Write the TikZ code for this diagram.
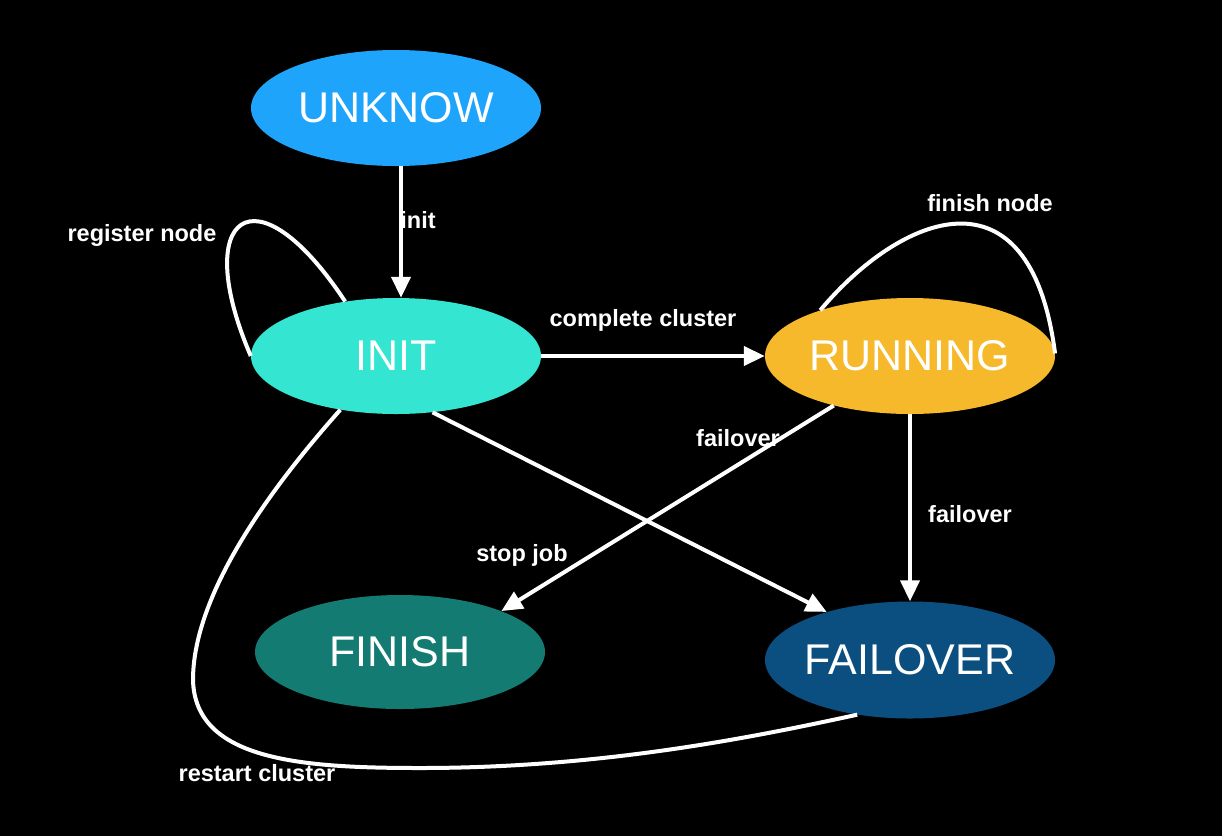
\documentclass[tikz,border=0pt]{standalone}
\usepackage{fontspec}
\setmainfont{Liberation Sans}
\usetikzlibrary{shapes.geometric,arrows.meta}
\definecolor{cUnknow}{RGB}{30,164,250}
\definecolor{cInit}{RGB}{52,229,210}
\definecolor{cRun}{RGB}{246,185,43}
\definecolor{cFinish}{RGB}{20,123,115}
\definecolor{cFail}{RGB}{11,79,128}
\tikzset{
  state/.style={ellipse, minimum width=290pt, minimum height=116pt, inner ysep=0pt, inner xsep=-30pt,
    text=white, font=\fontsize{43}{48}\selectfont},
  lbl/.style={text=white, font=\fontsize{23.5}{26}\selectfont\bfseries, inner sep=0pt},
  conn/.style={draw=white, line width=4pt},
  arr/.style={conn, -{Triangle[length=21pt,width=19pt]}},
}
\begin{document}
\begin{tikzpicture}[x=1pt,y=-1pt]
\fill[black] (0,0) rectangle (1222,836);
\useasboundingbox (0,0) rectangle (1222,836);

\node[state, fill=cUnknow] (unknow) at (396,108) {UNKNOW};
\node[state, fill=cInit] (init) at (396,356) {INIT};
\node[state, fill=cRun] (running) at (910,356) {RUNNING};
\node[state, fill=cFinish, minimum height=114pt] (finish) at (400,652) {FINISH};
\node[state, fill=cFail, minimum height=117pt] (failover) at (910,660) {FAILOVER};

% connectors
\draw[arr] (unknow.south) ++(5pt,0) coordinate (u1) (u1) -- (u1 |- init.north);
\draw[conn] (init.180) .. controls (190,215) and (255,165) .. (init.133);
\draw[arr] (init.east) -- (running.west);
\draw[conn] (running.153) .. controls (900,215) and (1030,160) .. (running.1);
\draw[arr] (running.213) -- (finish.22);
\draw[arr] (running.south) -- (failover.north);
\draw[arr] (init.-57) -- (failover.150);
\draw[conn] (init.224) .. controls (260,500) and (193,600) .. (193,680)
  .. controls (195,760) and (300,768) .. (420,768)
  .. controls (600,768) and (750,738) .. (failover.226);

% labels
\node[lbl] (l1) at (418,220) {init};
\node[lbl] (l2) at (142,235) {register node};
\node[lbl] (l3) at (643,320) {complete cluster};
\node[lbl] (l4) at (990,203) {finish node};
\node[lbl] (l5) at (738,438) {failover};
\node[lbl] (l6) at (522,555) {stop job};
\node[lbl] (l7) at (970,514) {failover};
\node[lbl] (l8) at (257,773) {restart cluster};
\end{tikzpicture}
\end{document}
